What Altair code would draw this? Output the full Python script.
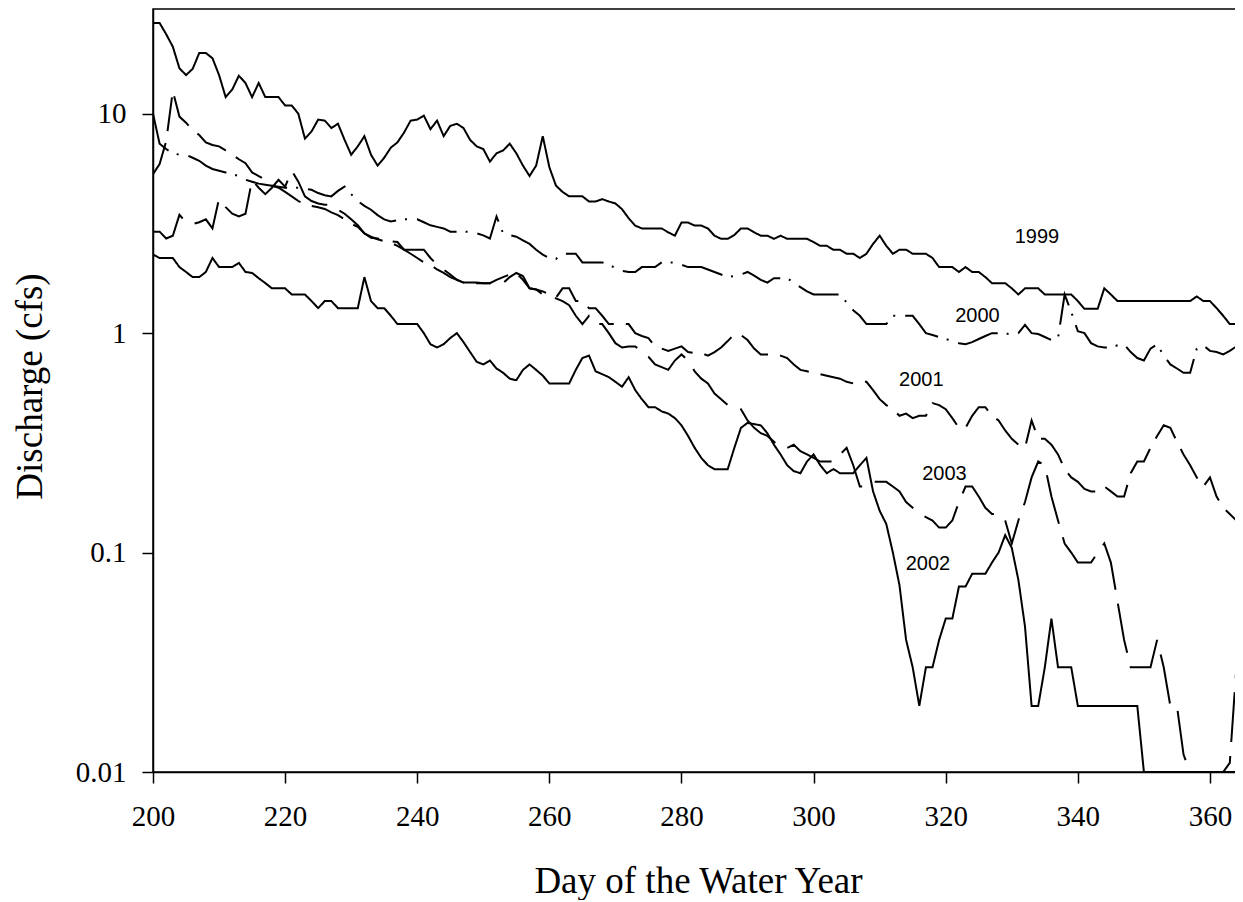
import altair as alt
import pandas as pd

days = list(range(200, 366))

q1999 = [
    25.9, 25.9, 23.0, 20.2, 16.1, 15.0, 16.0, 18.9, 18.9, 17.9,
    15.0, 11.9, 12.9, 14.9, 13.8, 11.9, 13.8, 11.9, 11.9, 11.9,
    10.9, 10.9, 10.0, 7.7, 8.3, 9.4, 9.3, 8.6, 9.0, 7.6,
    6.5, 7.1, 7.9, 6.5, 5.8, 6.3, 7.0, 7.4, 8.2, 9.3,
    9.4, 9.8, 8.5, 9.3, 7.9, 8.8, 9.0, 8.6, 7.6, 7.1,
    6.9, 6.05, 6.6, 6.8, 7.3, 6.6, 5.8, 5.2, 5.8, 7.9,
    5.7, 4.7, 4.4, 4.2, 4.2, 4.2, 3.98, 3.98, 4.08, 3.98,
    3.9, 3.67, 3.34, 3.09, 3.0, 3.0, 3.0, 3.0, 2.88, 2.78,
    3.19, 3.19, 3.09, 3.09, 3.0, 2.78, 2.69, 2.69, 2.8, 3.0,
    3.0, 2.88, 2.78, 2.78, 2.69, 2.78, 2.69, 2.69, 2.69, 2.69,
    2.6, 2.5, 2.5, 2.4, 2.4, 2.3, 2.3, 2.2, 2.3, 2.55,
    2.78, 2.5, 2.3, 2.4, 2.4, 2.3, 2.3, 2.3, 2.2, 2.0,
    2.0, 2.0, 1.9, 2.0, 1.9, 1.9, 1.8, 1.69, 1.69, 1.69,
    1.6, 1.5, 1.6, 1.6, 1.6, 1.5, 1.5, 1.5, 1.5, 1.5,
    1.4, 1.29, 1.29, 1.29, 1.6, 1.5, 1.4, 1.4, 1.4, 1.4,
    1.4, 1.4, 1.4, 1.4, 1.4, 1.4, 1.4, 1.4, 1.47, 1.4,
    1.4, 1.3, 1.2, 1.1, 1.1, 1.0,
]

q2000 = [
    10.0, 7.3, 6.9, 6.6, 6.5, 6.5, 6.3, 6.1, 5.8, 5.6,
    5.5, 5.4, 5.3, 5.2, 5.0, 4.9, 4.8, 4.75, 4.7, 4.65,
    4.6, 4.6, 4.6, 4.55, 4.5, 4.35, 4.25, 4.2, 4.45, 4.65,
    4.3, 4.0, 3.8, 3.65, 3.45, 3.3, 3.23, 3.27, 3.3, 3.3,
    3.3, 3.2, 3.1, 3.05, 3.0, 2.9, 2.9, 2.9, 2.9, 2.85,
    2.79, 2.7, 3.4, 2.85, 2.8, 2.75, 2.65, 2.55, 2.4, 2.28,
    2.2, 2.18, 2.3, 2.3, 2.3, 2.1, 2.1, 2.1, 2.1, 2.05,
    1.98, 1.92, 1.9, 1.9, 2.0, 2.0, 2.0, 2.1, 2.1, 2.1,
    2.05, 2.0, 2.0, 2.0, 1.95, 1.9, 1.85, 1.8, 1.82, 1.85,
    1.9, 1.83, 1.75, 1.7, 1.78, 1.78, 1.78, 1.7, 1.62, 1.55,
    1.5, 1.5, 1.5, 1.5, 1.5, 1.38, 1.27, 1.2, 1.1, 1.1,
    1.1, 1.1, 1.2, 1.2, 1.2, 1.2, 1.1, 1.0, 0.98, 0.96,
    0.94, 0.92, 0.9, 0.89, 0.91, 0.94, 0.97, 1.0, 1.0, 1.0,
    0.98, 1.0, 1.09, 1.0, 0.99, 0.96, 0.93, 0.95, 1.5, 1.25,
    1.02, 1.0, 0.9, 0.87, 0.86, 0.86, 0.88, 0.89, 0.82, 0.77,
    0.75, 0.85, 0.89, 0.79, 0.72, 0.69, 0.66, 0.66, 0.85, 0.88,
    0.83, 0.82, 0.8, 0.83, 0.87, 0.9,
]

q2001 = [
    5.3, 5.9, 7.5, 12.7, 9.7, 9.1, 8.4, 8.0, 7.4, 7.2,
    7.1, 6.8, 6.5, 6.2, 5.95, 5.4, 5.2, 5.0, 4.7, 4.6,
    4.4, 4.2, 4.0, 3.85, 3.8, 3.75, 3.68, 3.55, 3.45, 3.3,
    3.15, 3.05, 2.85, 2.75, 2.68, 2.62, 2.58, 2.5, 2.4, 2.3,
    2.2, 2.1, 2.05, 1.95, 1.88, 1.8, 1.75, 1.7, 1.7, 1.69,
    1.69, 1.69, 1.75, 1.8, 1.85, 1.88, 1.75, 1.6, 1.58, 1.55,
    1.5, 1.45, 1.6, 1.6, 1.4, 1.4, 1.3, 1.3, 1.2, 1.1,
    1.1, 1.1, 1.1, 1.0, 0.97, 0.95, 0.87, 0.85, 0.83, 0.85,
    0.87, 0.82, 0.81, 0.81, 0.79, 0.82, 0.86, 0.92, 0.99, 0.98,
    0.93, 0.85, 0.8, 0.8, 0.8, 0.79, 0.77, 0.72, 0.68, 0.67,
    0.66, 0.65, 0.64, 0.63, 0.62, 0.6, 0.59, 0.6, 0.6, 0.55,
    0.5, 0.47, 0.45, 0.42, 0.43, 0.41, 0.42, 0.42, 0.48, 0.47,
    0.45, 0.41, 0.37, 0.37, 0.42, 0.46, 0.46, 0.42, 0.4, 0.36,
    0.33, 0.31, 0.3, 0.4, 0.33, 0.33, 0.31, 0.28, 0.24, 0.22,
    0.21, 0.195, 0.19, 0.19, 0.2, 0.19, 0.18, 0.18, 0.23, 0.26,
    0.26, 0.3, 0.34, 0.38, 0.37, 0.32, 0.28, 0.25, 0.22, 0.2,
    0.22, 0.18, 0.16, 0.15, 0.14, 0.13,
]

q2002 = [
    2.28, 2.2, 2.2, 2.2, 2.0, 1.9, 1.8, 1.8, 1.9, 2.2,
    2.0, 2.0, 2.0, 2.09, 1.9, 1.88, 1.78, 1.69, 1.6, 1.6,
    1.6, 1.5, 1.5, 1.5, 1.4, 1.3, 1.4, 1.4, 1.3, 1.3,
    1.3, 1.3, 1.8, 1.4, 1.3, 1.3, 1.2, 1.1, 1.1, 1.1,
    1.1, 1.0, 0.89, 0.86, 0.89, 0.95, 1.0, 0.91, 0.82, 0.74,
    0.72, 0.75, 0.69, 0.66, 0.62, 0.61, 0.68, 0.72, 0.68, 0.64,
    0.59, 0.59, 0.59, 0.59, 0.68, 0.77, 0.79, 0.67, 0.65, 0.63,
    0.6, 0.57, 0.63, 0.55, 0.5, 0.46, 0.46, 0.44, 0.43, 0.41,
    0.38, 0.34, 0.3, 0.27, 0.25, 0.24, 0.24, 0.24, 0.3, 0.37,
    0.39, 0.385, 0.38, 0.35, 0.31, 0.28, 0.25, 0.235, 0.23, 0.26,
    0.28, 0.25, 0.23, 0.24, 0.23, 0.23, 0.23, 0.25, 0.27, 0.19,
    0.155, 0.135, 0.1, 0.071, 0.04, 0.03, 0.02, 0.03, 0.03, 0.04,
    0.05, 0.05, 0.07, 0.07, 0.08, 0.08, 0.08, 0.09, 0.1, 0.12,
    0.105, 0.075, 0.046, 0.02, 0.02, 0.03, 0.05, 0.03, 0.03, 0.03,
    0.02, 0.02, 0.02, 0.02, 0.02, 0.02, 0.02, 0.02, 0.02, 0.02,
    0.01, 0.01, 0.01, 0.01, 0.01, 0.01, 0.01, 0.01, 0.01, 0.01,
    0.01, 0.01, 0.01, 0.01, 0.01, 0.01,
]

q2003 = [
    2.9, 2.9, 2.7, 2.78, 3.46, 3.2, 3.14, 3.2, 3.3, 3.0,
    4.1, 3.75, 3.5, 3.4, 3.5, 5.0, 4.6, 4.3, 4.6, 5.0,
    4.65, 5.5, 4.9, 4.2, 4.0, 3.9, 3.85, 3.84, 3.65, 3.5,
    3.3, 3.1, 2.85, 2.72, 2.7, 2.65, 2.62, 2.6, 2.4, 2.4,
    2.4, 2.4, 2.2, 2.05, 1.95, 1.85, 1.75, 1.7, 1.7, 1.7,
    1.69, 1.69, 1.69, 1.69, 1.8, 1.88, 1.82, 1.6, 1.58, 1.5,
    1.47, 1.44, 1.4, 1.34, 1.2, 1.1, 1.2, 1.1, 1.1, 1.0,
    0.9, 0.86, 0.87, 0.87, 0.82, 0.78, 0.72, 0.7, 0.68, 0.75,
    0.8, 0.75, 0.67, 0.62, 0.59, 0.53, 0.5, 0.47, 0.47, 0.45,
    0.4, 0.37, 0.35, 0.34, 0.32, 0.3, 0.3, 0.31, 0.29, 0.28,
    0.27, 0.26, 0.26, 0.26, 0.28, 0.3, 0.25, 0.2, 0.2, 0.21,
    0.21, 0.21, 0.2, 0.19, 0.17, 0.16, 0.15, 0.145, 0.14, 0.13,
    0.13, 0.14, 0.17, 0.2, 0.2, 0.18, 0.16, 0.15, 0.15, 0.14,
    0.11, 0.14, 0.17, 0.22, 0.26, 0.25, 0.18, 0.14, 0.11, 0.1,
    0.09, 0.09, 0.09, 0.1, 0.11, 0.09, 0.06, 0.04, 0.03, 0.03,
    0.03, 0.03, 0.04, 0.03, 0.02, 0.02, 0.012, 0.01, 0.01, 0.01,
    0.01, 0.01, 0.01, 0.011, 0.03, 0.047,
]

years = ["1999", "2000", "2001", "2002", "2003"]
series = [q1999, q2000, q2001, q2002, q2003]

label_text = ["1999", "2000", "2001", "2002", "2003"]
label_day = [333.8, 324.8, 316.3, 317.3, 319.8]
label_q = [2.73, 1.195, 0.61, 0.0889, 0.227]

x_ticks = [200, 220, 240, 260, 280, 300, 320, 340, 360]
y_ticks = [0.01, 0.1, 1, 10]

rows = []
for yr, vals in zip(years, series):
    assert len(vals) == len(days), (yr, len(vals))
    for d, v in zip(days, vals):
        rows.append({"day": d, "q": v, "year": yr})
df = pd.DataFrame(rows)
labels_df = pd.DataFrame({"day": label_day, "q": label_q, "text": label_text})

SERIF = "Liberation Serif"

x_scale = alt.Scale(domain=[200, 365], nice=False, zero=False)
y_scale = alt.Scale(type="log", domain=[0.01, 30], nice=False)

dash_range = [[1, 0], [42, 9, 2, 10], [34, 12], [1, 0], [50, 14]]

lines = alt.Chart(df).mark_line(color="black", strokeWidth=2, clip=True).encode(
    x=alt.X(
        "day:Q",
        scale=x_scale,
        axis=alt.Axis(
            values=x_ticks,
            title="Day of the Water Year",
            labelFont=SERIF,
            labelFontSize=29,
            labelPadding=19,
            labelFlush=False,
            titleFont=SERIF,
            titleFontSize=37,
            titleY=120,
            titleBaseline="alphabetic",
        ),
    ),
    y=alt.Y(
        "q:Q",
        scale=y_scale,
        axis=alt.Axis(
            values=y_ticks,
            format="~g",
            title="Discharge (cfs)",
            labelFont=SERIF,
            labelFontSize=29,
            labelPadding=16,
            titleFont=SERIF,
            titleFontSize=37,
            titleX=-112,
            titleY=377,
            titleAngle=270,
            titleBaseline="alphabetic",
        ),
    ),
    strokeDash=alt.StrokeDash(
        "year:N",
        scale=alt.Scale(domain=years, range=dash_range),
        legend=None,
    ),
    detail="year:N",
)

texts = alt.Chart(labels_df).mark_text(
    font="Liberation Sans", fontSize=20, color="black", align="center", baseline="middle"
).encode(
    x=alt.X("day:Q", scale=x_scale),
    y=alt.Y("q:Q", scale=y_scale),
    text="text:N",
)

chart = (
    alt.layer(lines, texts)
    .properties(
        width=1090,
        height=763,
        padding={"left": 145, "top": 1, "right": -8, "bottom": 128},
        autosize=alt.AutoSizeParams(type="none"),
        background="white",
    )
    .configure_view(stroke="black", strokeWidth=1.5)
    .configure_axis(
        grid=False,
        domainColor="black",
        domainWidth=1.5,
        tickColor="black",
        tickWidth=1.5,
        tickSize=11,
        labelFont=SERIF,
        labelFontSize=29,
        labelColor="black",
        titleFont=SERIF,
        titleFontWeight="normal",
        titleColor="black",
    )
)

chart.save("out.html", embed_options={"renderer": "svg", "actions": False})
